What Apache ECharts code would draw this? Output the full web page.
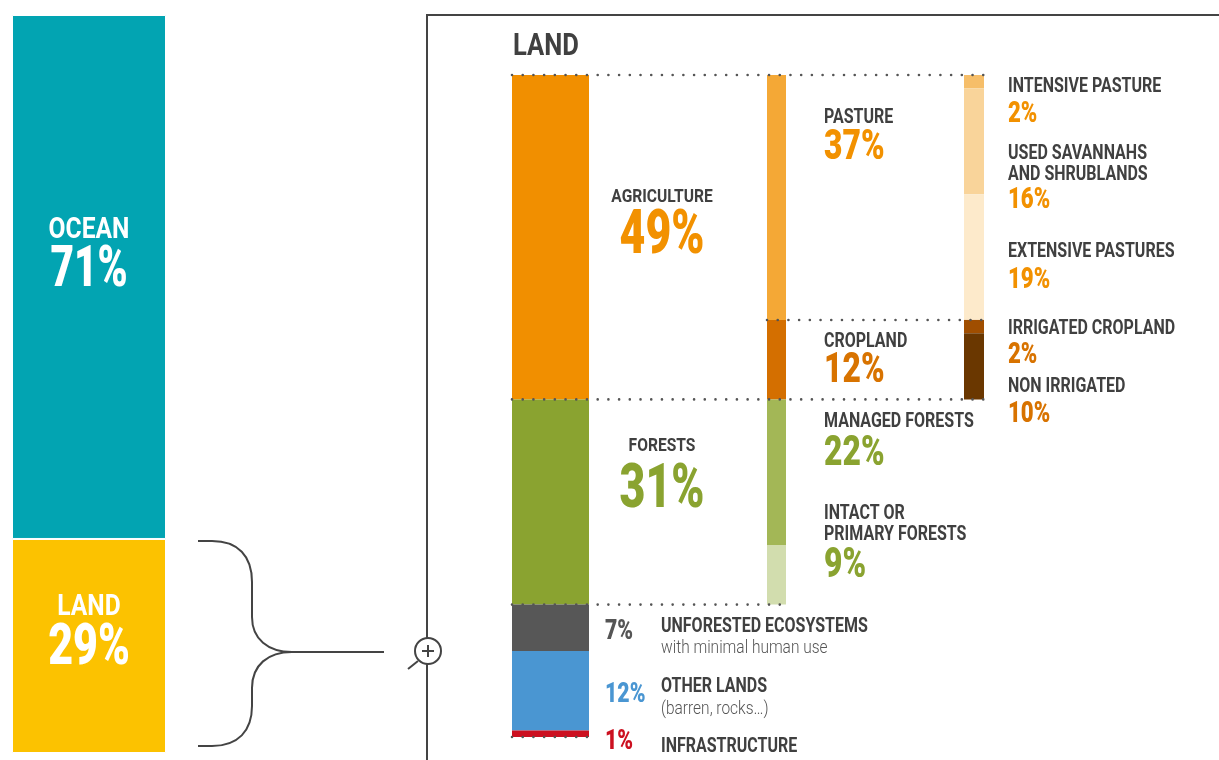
<!DOCTYPE html>
<html>
<head>
<meta charset="utf-8">
<script src="https://cdn.jsdelivr.net/npm/echarts@6/dist/echarts.min.js"></script>
<style>html,body{margin:0;padding:0;background:#fff;}#c{width:1219px;height:760px;}</style>
</head>
<body>
<div id="c"></div>
<script>
// ---- data ----
const surfaceCats = ['OCEAN', 'LAND'];
const surfaceValues = [71, 29];
const surfaceColors = ['#02A4B2', '#FCC200'];

const landCats = ['AGRICULTURE', 'FORESTS', 'UNFORESTED ECOSYSTEMS', 'OTHER LANDS', 'INFRASTRUCTURE'];
const landNotes = ['', '', 'with minimal human use', '(barren, rocks…)', ''];
const landValues = [49, 31, 7, 12, 1];
const landColors = ['#F18F00', '#8AA330', '#575757', '#4A96D2', '#CC1020'];

const subCats = ['PASTURE', 'CROPLAND', 'MANAGED FORESTS', 'INTACT OR\nPRIMARY FORESTS'];
const subValues = [37, 12, 22, 9];
const subColors = ['#F4A836', '#D46F00', '#A3B756', '#D2DDAE'];

const detailCats = ['INTENSIVE PASTURE', 'USED SAVANNAHS\nAND SHRUBLANDS', 'EXTENSIVE PASTURES', 'IRRIGATED CROPLAND', 'NON IRRIGATED'];
const detailValues = [2, 16, 19, 2, 10];
const detailColors = ['#F6BE69', '#F9D49A', '#FDEACB', '#A04E00', '#6A3700'];

const title = 'LAND';

// ---- chart ----
const chart = echarts.init(document.getElementById('c'), null, {renderer: 'canvas'});
const FONT = 'Roboto';
const grids = [
  {left: 12, top: 15, width: 154, height: 738},
  {left: 512, top: 75, width: 77, height: 662},
  {left: 767, top: 75, width: 19, height: 662},
  {left: 964, top: 75, width: 20, height: 662}
];
const groups = [
  {cats: surfaceCats, vals: surfaceValues, cols: surfaceColors, border: true},
  {cats: landCats, vals: landValues, cols: landColors},
  {cats: subCats, vals: subValues, cols: subColors},
  {cats: detailCats, vals: detailValues, cols: detailColors}
];
const series = [];
groups.forEach((g, gi) => {
  g.cats.forEach((name, i) => {
    series.push({
      type: 'bar', name: name, xAxisIndex: gi, yAxisIndex: gi, stack: 's' + gi,
      barWidth: '100%', data: [g.vals[i]],
      itemStyle: {color: g.cols[i], borderColor: g.border ? '#fff' : null, borderWidth: g.border ? 1 : 0},
      silent: true
    });
  });
});
chart.setOption({
  animation: false,
  grid: grids.map(g => Object.assign({containLabel: false}, g)),
  xAxis: grids.map((g, i) => ({type: 'category', gridIndex: i, data: ['x'], show: false})),
  yAxis: grids.map((g, i) => ({type: 'value', gridIndex: i, min: 0, max: 100, inverse: true, show: false})),
  series: series
});

function yAt(gi, v) { return chart.convertToPixel({xAxisIndex: gi, yAxisIndex: gi}, [0, v])[1]; }
function cum(arr, n) { let s = 0; for (let i = 0; i < n; i++) s += arr[i]; return s; }
const pct = v => v + '%';

const graphic = [];
const DARK = '#404040';
const DY = 2;
function txt(t, x, y, size, align, color, k, weight) {
  graphic.push({
    type: 'text', x: x, y: y + DY, scaleX: k, z: 100, silent: true,
    style: {text: t, fontFamily: FONT, fontSize: size, fontWeight: weight || 'bold', fill: color,
            align: align, verticalAlign: 'middle'}
  });
}
function num(t, x, y, size, align, color, k) { txt(t, x, y, size, align, color, k, 900); }
function multi(t, x, y, size, align, color, k, lh) {
  t.split('\n').forEach((line, i) => txt(line, x, y + i * lh, size, align, color, k));
}
function line(x1, y1, x2, y2, opts) {
  graphic.push({type: 'line', z: 100, silent: true, shape: {x1: x1, y1: y1, x2: x2, y2: y2},
    style: Object.assign({stroke: '#444', lineWidth: 2}, opts || {})});
}
function curve(x1, y1, c1x, c1y, c2x, c2y, x2, y2) {
  graphic.push({type: 'bezierCurve', z: 100, silent: true,
    shape: {x1: x1, y1: y1, cpx1: c1x, cpy1: c1y, cpx2: c2x, cpy2: c2y, x2: x2, y2: y2},
    style: {stroke: '#444', lineWidth: 2, fill: null}});
}
function dotted(x1, x2, y) {
  line(x1, y, x2, y, {stroke: '#555', lineWidth: 2.6, lineDash: [0.01, 10.7], lineCap: 'round'});
}

// left bar labels
txt(surfaceCats[0], 89, 228, 30, 'center', '#fff', 0.82);
num(pct(surfaceValues[0]), 89, 269, 58, 'center', '#fff', 0.7);
txt(surfaceCats[1], 89, 605, 30, 'center', '#fff', 0.82);
num(pct(surfaceValues[1]), 89, 647, 58, 'center', '#fff', 0.74);

// title
txt(title, 513, 45, 32, 'left', DARK, 0.8);

// main bar labels
const ORANGE = '#F29100', BROWN = '#D87300', GREEN = '#8AA330';
txt(landCats[0], 662, 195, 19, 'center', DARK, 0.82);
num(pct(landValues[0]), 662, 235, 62, 'center', ORANGE, 0.72);
txt(landCats[1], 662, 444.5, 19, 'center', DARK, 0.82);
num(pct(landValues[1]), 662, 489, 62, 'center', GREEN, 0.72);

// bottom labels
const lowCols = ['#555555', '#4A96D2', '#CC1020'];
const lowY = [[630, 625, 646], [693, 684.5, 707], [740, 744.5, 0]];
for (let j = 0; j < 3; j++) {
  const i = j + 2;
  num(pct(landValues[i]), 605, lowY[j][0], 28, 'left', lowCols[j], 0.76);
  txt(landCats[i], 661, lowY[j][1], 20, 'left', DARK, 0.8);
  if (landNotes[i]) txt(landNotes[i], 661, lowY[j][2], 18, 'left', '#555', 0.86, 300);
}

// sub labels
const subY = [[115.5, 146.5], [339.5, 369.5], [420, 452], [512, 564]];
const subNumCols = [ORANGE, BROWN, GREEN, GREEN];
subCats.forEach((n, i) => {
  multi(n, 824, subY[i][0], 20, 'left', DARK, 0.8, 21);
  num(pct(subValues[i]), 824, subY[i][1], 43, 'left', subNumCols[i], 0.74);
});

// detail labels
const detY = [[85, 112.5], [152, 198], [250, 278.5], [326.5, 353.5], [384.5, 412.5]];
const detNumCols = [ORANGE, ORANGE, ORANGE, BROWN, BROWN];
detailCats.forEach((n, i) => {
  multi(n, 1008, detY[i][0], 20, 'left', DARK, 0.8, 20.5);
  num(pct(detailValues[i]), 1008, detY[i][1], 30, 'left', detNumCols[i], 0.74);
});

// dotted separators from the scale
const x1L = grids[1].left, x1R = grids[1].left + grids[1].width;
const x2L = grids[2].left, x2R = grids[2].left + grids[2].width;
const x3R = grids[3].left + grids[3].width;
dotted(x1L, x3R, yAt(1, 0));
dotted(x2L, x3R, yAt(2, cum(subValues, 1)));
dotted(x1L, x3R, yAt(1, cum(landValues, 1)));
dotted(x1L, x2R, yAt(1, cum(landValues, 2)));
dotted(x1L, x1R, yAt(1, cum(landValues, 5)));

// frame
line(427, 15, 427, 760);
line(426, 15, 1219, 15);

// bracket
line(198, 541, 212, 541);
curve(212, 541, 238, 541, 252, 556, 252, 582);
line(252, 582, 252, 617);
curve(252, 617, 252, 639, 268, 652, 292, 652);
line(198, 746, 212, 746);
curve(212, 746, 238, 746, 252, 731, 252, 706);
line(252, 706, 252, 688);
curve(252, 688, 252, 665, 268, 652, 292, 652);
line(291, 652, 384, 652);

// magnifier
graphic.push({type: 'circle', z: 101, silent: true, shape: {cx: 428, cy: 651, r: 13},
  style: {fill: '#fff', stroke: '#444', lineWidth: 2}});
graphic.push({type: 'line', z: 102, silent: true, shape: {x1: 422, y1: 651, x2: 434, y2: 651}, style: {stroke: '#444', lineWidth: 2}});
graphic.push({type: 'line', z: 102, silent: true, shape: {x1: 428, y1: 645, x2: 428, y2: 657}, style: {stroke: '#444', lineWidth: 2}});
graphic.push({type: 'line', z: 102, silent: true, shape: {x1: 418, y1: 661, x2: 408, y2: 669}, style: {stroke: '#444', lineWidth: 2}});

chart.setOption({graphic: graphic});
</script>
</body>
</html>
